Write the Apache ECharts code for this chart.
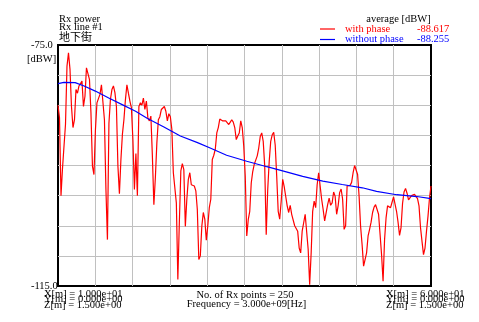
<!DOCTYPE html>
<html>
<head>
<meta charset="utf-8">
<script src="https://cdn.jsdelivr.net/npm/echarts@6/dist/echarts.min.js"></script>
<style>
  html, body { margin: 0; padding: 0; background: #fff; }
  #chart { width: 479px; height: 322px; }
</style>
</head>
<body>
<div id="chart"></div>
<script>
// Received power along Rx line #1 (250 receivers from X = 10 m to X = 60 m)
const rxStartM = 10;
const rxEndM = 60;
const rxCount = 250;

// Power with phase [dBW], one value per receiver
const withPhase = [
  -85.0, -87.1, -100.0, -95.5, -91.8, -88.2, -78.5, -76.3, -79.0, -85.2,
  -88.7, -87.4, -82.4, -83.0, -81.8, -81.8, -81.0, -85.2, -83.5, -78.8,
  -79.1, -80.7, -86.3, -95.1, -96.5, -89.0, -84.6, -84.3, -83.2, -81.6,
  -81.8, -87.4, -99.0, -107.3, -88.0, -84.0, -82.4, -81.8, -82.9, -85.2,
  -95.1, -99.7, -94.0, -89.8, -87.4, -84.1, -81.6, -83.0, -84.3, -85.4,
  -90.7, -99.0, -93.0, -100.0, -85.2, -84.6, -85.0, -83.8, -85.7, -84.3,
  -87.1, -87.6, -86.8, -93.4, -101.5, -97.0, -91.2, -87.4, -86.9, -85.7,
  -86.0, -85.2, -86.0, -87.6, -86.4, -86.9, -89.0, -96.2, -96.5, -101.2,
  -113.9, -104.5, -95.9, -94.7, -95.7, -105.1, -100.6, -97.3, -96.2, -98.2,
  -98.3, -98.4, -99.2, -102.3, -110.6, -110.0, -105.1, -102.8, -103.9, -107.4,
  -105.0, -102.0, -100.6, -94.0, -93.3, -92.3, -89.6, -88.7, -87.3, -87.1,
  -87.6, -87.3, -87.6, -87.9, -88.2, -87.8, -87.4, -87.8, -88.7, -90.7,
  -90.1, -89.6, -87.6, -88.7, -91.8, -96.8, -106.7, -104.0, -102.6, -97.9,
  -96.0, -94.8, -94.1, -93.4, -92.1, -90.2, -89.6, -91.0, -95.1, -106.5,
  -99.0, -94.3, -91.0, -89.9, -89.5, -91.6, -96.8, -102.6, -103.9, -100.9,
  -97.3, -98.5, -100.1, -101.7, -102.8, -101.6, -103.1, -103.3, -105.0, -105.3,
  -105.9, -108.7, -109.5, -105.9, -104.5, -103.1, -103.4, -108.9, -114.8, -109.5,
  -102.6, -100.9, -102.0, -98.2, -96.2, -98.4, -100.6, -102.3, -104.2, -104.2,
  -101.5, -100.4, -101.6, -101.2, -99.4, -100.1, -103.1, -101.7, -99.5, -98.9,
  -100.6, -105.6, -105.0, -98.4, -98.3, -98.3, -97.8, -96.2, -95.0, -94.8,
  -96.5, -100.1, -105.1, -108.1, -111.7, -111.7, -109.5, -106.7, -105.6, -104.4,
  -102.8, -101.9, -101.5, -101.4, -103.1, -106.4, -109.8, -114.2, -107.3, -103.7,
  -101.7, -102.0, -102.0, -101.1, -100.2, -100.1, -102.6, -104.4, -106.6, -105.3,
  -101.3, -99.4, -98.8, -99.6, -100.7, -100.4, -100.0, -100.1, -99.8, -100.0,
  -100.5, -101.7, -105.3, -107.6, -109.8, -108.7, -105.9, -103.4, -100.4, -98.4
];

// Power without phase [dBW]: position X [m] and level
const withoutPhaseX = [
  10.0, 10.8, 12.3, 13.5, 15.0, 16.8, 18.6, 20.4, 22.0, 24.2, 26.4, 28.7, 30.4,
  32.6, 35.3, 38.0, 40.6, 42.8, 45.5, 48.1, 50.8, 52.7, 55.4, 58.1, 60.0
];
const withoutPhase = [
  -81.4, -81.2, -81.25, -81.8, -82.65, -83.8, -84.9, -86.0, -87.2, -88.6, -90.1, -91.2, -92.1,
  -93.3, -94.3, -95.2, -96.05, -96.8, -97.6, -98.15, -98.7, -99.3, -99.85, -100.15, -100.5
];

// Averages printed next to the legend
const seriesNames = ['with phase', 'without phase'];
const seriesAverages = ['-88.617', '-88.255'];
const seriesColors = ['#ff0000', '#0000ff'];

// Y tick labels shown at the ends of the power axis
const yTickLabels = { '-75': '-75.0', '-115': '-115.0' };

const serif = '"Liberation Serif", "Times New Roman", serif';
const fontPx = 10.5;

// Receiver positions along the line
const rxX = [];
for (let i = 0; i < rxCount; i++) {
  rxX.push(rxStartM + (rxEndM - rxStartM) * i / (rxCount - 1));
}

const withPhaseData = withPhase.map((v, i) => [rxX[i], v]);
const withoutPhaseData = withoutPhase.map((v, i) => [withoutPhaseX[i], v]);

function label(text, x, y, align, color) {
  return {
    type: 'text',
    x: x,
    y: y,
    silent: true,
    style: {
      text: text,
      fontFamily: serif,
      fontSize: fontPx,
      fill: color || '#000',
      align: align || 'left',
      verticalAlign: 'middle'
    }
  };
}

// Legend block: line sample, series name and its average
const legendRowsY = [29, 39.5];
const legendGraphics = [];
seriesNames.forEach((name, k) => {
  const y = legendRowsY[k];
  legendGraphics.push({
    type: 'line',
    silent: true,
    shape: { x1: 320, y1: y, x2: 335, y2: y },
    style: { stroke: seriesColors[k], lineWidth: 1.2 }
  });
  legendGraphics.push(label(name, 345, y, 'left', seriesColors[k]));
  legendGraphics.push(label(seriesAverages[k], 417, y, 'left', seriesColors[k]));
});

const chart = echarts.init(document.getElementById('chart'), null, { renderer: 'canvas' });

chart.setOption({
  animation: false,
  backgroundColor: '#ffffff',
  grid: {
    left: 58,
    top: 45,
    width: 373,
    height: 241,
    show: true,
    borderColor: '#000',
    borderWidth: 2,
    backgroundColor: 'transparent'
  },
  xAxis: {
    type: 'value',
    min: rxStartM,
    max: rxEndM,
    interval: 5,
    axisLine: { show: false },
    axisTick: { show: false },
    axisLabel: { show: false },
    splitLine: {
      show: true,
      showMinLine: false,
      showMaxLine: false,
      lineStyle: { color: '#c0c0c0', width: 1 }
    }
  },
  yAxis: {
    type: 'value',
    min: -115,
    max: -75,
    interval: 5,
    axisLine: { show: false },
    axisTick: { show: false },
    axisLabel: {
      show: true,
      showMinLabel: true,
      showMaxLabel: true,
      margin: 27,
      align: 'left',
      fontFamily: serif,
      fontSize: fontPx,
      color: '#000',
      formatter: v => yTickLabels[String(v)] || ''
    },
    splitLine: {
      show: true,
      showMinLine: false,
      showMaxLine: false,
      lineStyle: { color: '#c0c0c0', width: 1 }
    }
  },
  graphic: [
    label('Rx power', 59, 18.8),
    label('Rx line #1', 59, 27.6),
    {
      type: 'text', x: 59, y: 36.8, silent: true,
      style: {
        text: '地下街', fontFamily: '"Noto Sans CJK JP", sans-serif', fontSize: 11,
        fill: '#000', align: 'left', verticalAlign: 'middle'
      }
    },
    label('[dBW]', 27, 59.3),
    label('average [dBW]', 398.5, 19.6, 'center'),
    ...legendGraphics,
    label('X[m] = 1.000e+01', 44, 293.8),
    label('Y[m] = 0.000e+00', 44, 299.3),
    label('Z[m] = 1.500e+00', 44, 304.8),
    label('No. of Rx points = 250', 245, 295, 'center'),
    label('Frequency = 3.000e+09[Hz]', 246.5, 304.6, 'center'),
    label('X[m] = 6.000e+01', 386, 293.8),
    label('Y[m] = 0.000e+00', 386, 299.3),
    label('Z[m] = 1.500e+00', 386, 304.8)
  ],
  series: [
    {
      name: seriesNames[0],
      type: 'line',
      data: withPhaseData,
      symbol: 'none',
      z: 3,
      lineStyle: { color: seriesColors[0], width: 1.2 },
      itemStyle: { color: seriesColors[0] }
    },
    {
      name: seriesNames[1],
      type: 'line',
      data: withoutPhaseData,
      symbol: 'none',
      z: 4,
      lineStyle: { color: seriesColors[1], width: 1.2 },
      itemStyle: { color: seriesColors[1] }
    }
  ]
});
</script>
</body>
</html>
